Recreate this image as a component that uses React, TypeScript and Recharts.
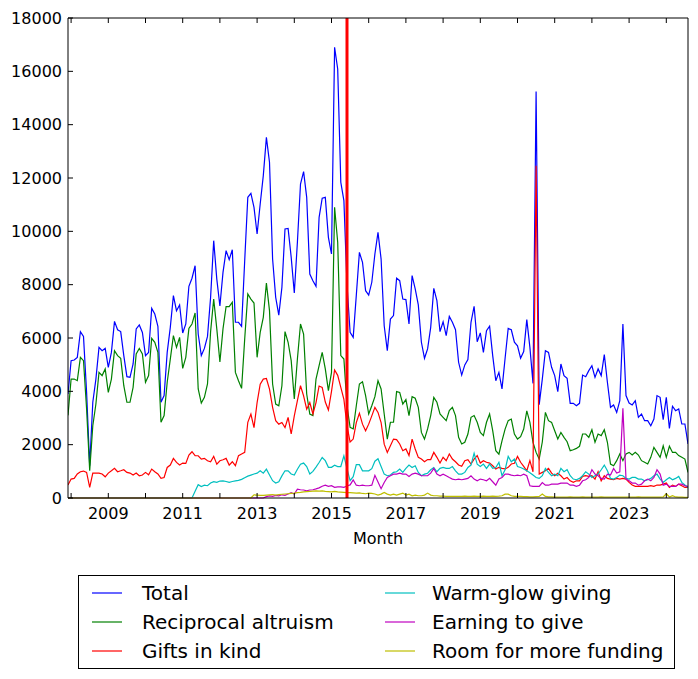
import React from 'react';
import { LineChart, Line, XAxis, YAxis, ReferenceLine } from 'recharts';

// monthly series, Dec 2007 .. Aug 2024 (201 months)
const firstMonth = 2007 + 11 / 12;

const total = [
  3900, 5150, 5175, 5275, 6240, 6060, 3960, 1210, 3590, 4460,
  5650, 5525, 5610, 4900, 5460, 6625, 6310, 6240, 5340, 4550,
  4525, 5025, 6340, 6490, 6210, 5340, 5460, 7110, 6900, 6440,
  3590, 3840, 5460, 6400, 7590, 7025, 7240, 6190, 6525, 7940,
  8240, 8710, 6150, 5340, 5610, 6060, 7525, 9650, 8210, 7200,
  8460, 9275, 8940, 9310, 6590, 6590, 6440, 8900, 11275, 11425,
  10900, 9900, 11025, 12090, 13525, 12590, 8960, 7525, 6860, 7900,
  10090, 10110, 9025, 7690, 9590, 11775, 12240, 11275, 8400, 8150,
  7940, 10525, 11240, 11275, 9775, 9150, 16900, 16090, 11840, 11150,
  8000, 6210, 6025, 7600, 9210, 8840, 7775, 7610, 8090, 9150,
  9960, 8960, 6460, 5525, 6710, 6840, 8240, 8150, 7460, 7440,
  6525, 8340, 7840, 7240, 5840, 5240, 5590, 6400, 7860, 7400,
  6240, 6610, 6090, 6810, 6590, 6310, 5090, 4610, 4990, 5190,
  6590, 7190, 5860, 6190, 5460, 6275, 6440, 5340, 4400, 4710,
  4090, 5240, 6360, 6310, 5840, 5710, 5240, 5490, 6690, 5650,
  4300, 15240, 3500, 4460, 5525, 5460, 4900, 4590, 3990, 5025,
  4590, 4490, 3550, 3550, 3460, 3550, 4610, 4550, 4775, 4960,
  4525, 4840, 4590, 5375, 4340, 3400, 3490, 3210, 3650, 6525,
  3840, 3560, 3490, 3650, 3025, 3150, 2900, 2900, 2710, 2960,
  3840, 3775, 2940, 3775, 2610, 3440, 3275, 3340, 2775, 2775,
  2025,
];

const reciprocal = [
  3100, 4460, 4460, 4400, 5275, 5150, 3340, 1025, 2710, 3525,
  4710, 4590, 4840, 3960, 4460, 5525, 5340, 5240, 4210, 3590,
  3590, 4150, 5400, 5610, 5400, 4340, 4590, 5990, 5840, 5460,
  2840, 3090, 4340, 5210, 6090, 5650, 6025, 4860, 5275, 6360,
  6525, 6940, 4090, 3560, 3775, 4275, 6240, 7460, 6340, 5100,
  6340, 7180, 7175, 7340, 4710, 4400, 4110, 5960, 7650, 7460,
  7310, 5275, 6210, 6775, 8060, 7025, 4275, 3525, 3460, 4210,
  6240, 5840, 5150, 3710, 5210, 6525, 6150, 3900, 3150, 3090,
  4460, 4960, 5460, 4840, 4025, 4710, 10900, 9590, 5340, 5210,
  3460, 2650, 2590, 3460, 4275, 4360, 3840, 3150, 3460, 3800,
  4400, 4090, 3150, 2210, 2840, 2840, 3990, 3960, 3525, 3690,
  3090, 3800, 3740, 3400, 2460, 2210, 2590, 3090, 3775, 3590,
  3150, 3025, 2900, 3275, 3400, 3090, 2275, 2025, 2090, 2400,
  3025, 3090, 2840, 2460, 2340, 2840, 3150, 2525, 1775, 1645,
  2145, 2585, 2900, 2960, 2400, 2210, 2300, 2585, 3270, 2835,
  2085, 1710, 1460, 2100, 3210, 2900, 2835, 2520, 2210, 2460,
  2275, 2110, 1775, 1810, 1860, 1940, 2400, 2400, 2275, 2560,
  2090, 2400, 2340, 2560, 2090, 1275, 1210, 1400, 1650, 1400,
  1650, 1710, 1610, 1710, 1610, 1400, 1340, 1275, 1525, 1900,
  1710, 1525, 1960, 1525, 1940, 1710, 1710, 1590, 1525, 1460,
  960,
];

const giftsInKind = [
  484, 710, 735, 900, 985, 1010, 960, 400, 935, 935,
  935, 900, 795, 935, 1020, 1110, 985, 1020, 1060, 960,
  935, 860, 935, 835, 860, 960, 870, 1085, 985, 900,
  735, 770, 1145, 1235, 1485, 1335, 1235, 1310, 1295, 1610,
  1735, 1585, 1585, 1460, 1485, 1395, 1360, 1560, 1270, 1395,
  1435, 1485, 1235, 1360, 1210, 1590, 1650, 1710, 2840, 3150,
  2640, 3580, 4270, 4460, 4480, 4080, 3400, 2900, 2770, 2830,
  2640, 3020, 2400, 3080, 3650, 4210, 3830, 3330, 3580, 3150,
  3580, 4200, 4150, 3600, 3300, 4000, 4800, 4600, 4150, 3700,
  2710, 2100, 2210, 2830, 3180, 2770, 2520, 2770, 3080, 3400,
  3210, 2830, 2020, 1710, 1960, 2210, 2190, 2025, 1775, 1840,
  1590, 2210, 1840, 1525, 1460, 1360, 1440, 1440, 1710, 1525,
  1310, 1525, 1400, 1650, 1460, 1360, 1240, 1190, 1400, 1440,
  1275, 1460, 1590, 1310, 1400, 1340, 1310, 1210, 1090, 1150,
  1110, 1090, 1150, 1275, 1300, 1560, 1340, 1185, 1020, 1400,
  980, 12460, 900, 960, 1020, 1110, 930, 835, 930, 835,
  710, 770, 645, 585, 645, 645, 810, 835, 810, 835,
  710, 985, 645, 835, 735, 710, 685, 735, 710, 735,
  710, 585, 485, 435, 435, 435, 435, 435, 460, 435,
  485, 485, 520, 560, 395, 485, 435, 520, 460, 395,
  395,
];

const warmGlow = [
  0, 0, 0, 0, 0, 0, 0, 0, 0, 0,
  0, 0, 0, 0, 0, 0, 0, 0, 0, 0,
  0, 0, 0, 0, 0, 0, 0, 0, 0, 0,
  0, 0, 0, 0, 0, 0, 0, 0, 0, 0,
  0, 250, 500, 430, 480, 460, 560, 610, 585, 635,
  645, 620, 585, 620, 645, 660, 700, 760, 820, 860,
  900, 930, 1020, 930, 1080, 860, 650, 560, 610, 830,
  1020, 1020, 900, 860, 1080, 1270, 1310, 1180, 900, 1000,
  1160, 1330, 1520, 1400, 1150, 1150, 1230, 1180, 1180, 1580,
  1100, 650, 800, 1250, 1250, 1020, 1020, 1020, 1100, 1380,
  1470, 1180, 895, 835, 860, 960, 985, 1085, 960, 1110,
  1235, 1145, 1210, 960, 835, 895, 930, 1060, 1145, 985,
  1110, 1145, 1110, 1110, 1180, 1020, 895, 895, 960, 1145,
  1235, 1680, 1270, 1180, 1270, 1110, 1270, 1110, 1145, 1335,
  835, 1060, 1560, 1360, 1460, 1180, 1145, 1085, 1020, 950,
  860, 770, 735, 835, 1110, 960, 835, 895, 835, 1110,
  985, 1060, 835, 710, 685, 735, 835, 985, 895, 770,
  835, 895, 1060, 1235, 1020, 735, 710, 770, 860, 835,
  735, 710, 770, 770, 710, 710, 645, 685, 735, 835,
  895, 710, 585, 685, 770, 685, 735, 810, 585, 485,
  395,
];

const earningToGive = [
  0, 0, 0, 0, 0, 0, 0, 0, 0, 0,
  0, 0, 0, 0, 0, 0, 0, 0, 0, 0,
  0, 0, 0, 0, 0, 0, 0, 0, 0, 0,
  0, 0, 0, 0, 0, 0, 0, 0, 0, 0,
  0, 0, 0, 0, 0, 0, 0, 0, 0, 0,
  0, 0, 0, 0, 0, 0, 0, 0, 0, 0,
  0, 0, 0, 0, 50, 80, 60, 100, 80, 120,
  100, 150, 200, 150, 330, 310, 300, 270, 300, 310,
  340, 380, 440, 480, 440, 460, 400, 420, 420, 400,
  450, 490, 680, 480, 460, 480, 460, 460, 480, 850,
  600, 350, 580, 770, 835, 895, 895, 930, 895, 895,
  810, 895, 930, 895, 835, 835, 835, 930, 1110, 895,
  835, 895, 835, 770, 710, 685, 710, 685, 710, 735,
  835, 710, 645, 710, 685, 645, 735, 610, 480, 710,
  770, 895, 895, 860, 835, 860, 835, 895, 835, 460,
  435, 435, 435, 580, 480, 480, 520, 520, 520, 560,
  560, 560, 480, 480, 435, 480, 645, 685, 770, 1060,
  895, 835, 735, 710, 895, 860, 1110, 935, 985, 3360,
  710, 645, 560, 560, 480, 520, 645, 710, 645, 770,
  1060, 895, 480, 520, 435, 435, 435, 520, 520, 460,
  435,
];

const roomForFunding = [
  0, 0, 0, 0, 0, 0, 0, 0, 0, 0,
  0, 0, 0, 0, 0, 0, 0, 0, 0, 0,
  0, 0, 0, 0, 0, 0, 0, 0, 0, 0,
  0, 0, 0, 0, 0, 0, 0, 0, 0, 0,
  0, 0, 0, 0, 0, 0, 0, 0, 0, 0,
  0, 0, 0, 0, 0, 0, 0, 0, 0, 0,
  120, 110, 100, 100, 110, 120, 130, 110, 130, 140,
  150, 160, 170, 180, 200, 210, 230, 240, 250, 260,
  270, 260, 270, 250, 240, 230, 250, 230, 220, 210,
  200, 200, 190, 180, 190, 170, 160, 180, 170, 150,
  110, 146, 210, 146, 110, 146, 110, 146, 184, 110,
  146, 84, 110, 84, 84, 110, 184, 110, 84, 84,
  70, 70, 60, 60, 60, 60, 60, 60, 70, 60,
  60, 70, 60, 60, 70, 60, 60, 70, 60, 70,
  84, 146, 146, 84, 60, 60, 60, 50, 50, 40,
  40, 50, 60, 146, 60, 40, 40, 30, 30, 30,
  30, 30, 40, 30, 30, 30, 40, 30, 30, 30,
  30, 30, 40, 30, 30, 30, 30, 30, 30, 30,
  30, 30, 30, 30, 40, 30, 30, 30, 30, 30,
  30, 30, 40, 160, 40, 90, 40, 30, 30, 20,
  20,
];

const months = total.map((_, i) => firstMonth + i / 12);
const xTicks = [2008, 2009, 2010, 2011, 2012, 2013, 2014, 2015, 2016, 2017, 2018, 2019, 2020, 2021, 2022, 2023, 2024];
const yTicks = [0, 2000, 4000, 6000, 8000, 10000, 12000, 14000, 16000, 18000];
const markerMonth = 2015 + 5 / 12;

const series = [
  { key: 'total', name: 'Total', color: '#0000ff', values: total },
  { key: 'reciprocal', name: 'Reciprocal altruism', color: '#008000', values: reciprocal },
  { key: 'gifts', name: 'Gifts in kind', color: '#ff0000', values: giftsInKind },
  { key: 'warm', name: 'Warm-glow giving', color: '#00bfbf', values: warmGlow },
  { key: 'earning', name: 'Earning to give', color: '#bf00bf', values: earningToGive },
  { key: 'room', name: 'Room for more funding', color: '#bfbf00', values: roomForFunding },
];

const data = months.map((m, i) => {
  const row: Record<string, number> = { month: m };
  series.forEach((s) => {
    row[s.key] = s.values[i];
  });
  return row;
});

const font = 'DejaVu Sans, sans-serif';
const tickStyle = { fill: '#000', fontSize: 16, fontFamily: font };
const xDomain = [months[0], months[months.length - 1]];

// matplotlib-style boxed legend, two columns
const LegendBox = () => (
  <div
    style={{
      position: 'absolute',
      left: 78,
      top: 575,
      width: 597,
      height: 94,
      border: '1px solid #000',
      boxSizing: 'border-box',
      background: '#fff',
      fontFamily: font,
      fontSize: 20,
    }}
  >
    {series.map((s, i) => {
      const col = Math.floor(i / 3);
      const row = i % 3;
      const cy = 17 + row * 29;
      return (
        <React.Fragment key={s.key}>
          <svg style={{ position: 'absolute', left: col ? 306 : 13, top: cy - 2 }} width={30} height={4}>
            <line x1={0} x2={30} y1={2} y2={2} stroke={s.color} strokeWidth={1.2} />
          </svg>
          <div
            style={{
              position: 'absolute',
              left: col ? 353 : 63,
              top: cy - 12,
              lineHeight: '24px',
              whiteSpace: 'nowrap',
              color: '#000',
            }}
          >
            {s.name}
          </div>
        </React.Fragment>
      );
    })}
  </div>
);

export default function App() {
  return (
    <div style={{ position: 'absolute', left: 0, top: 0, width: 698, height: 679, background: '#fff', fontFamily: font }}>
      <LineChart width={698} height={679} data={data} margin={{ top: 17, right: 9, bottom: 121, left: 0 }}>
        <XAxis
          dataKey="month"
          type="number"
          domain={xDomain}
          allowDataOverflow
          ticks={xTicks}
          interval={0}
          tickFormatter={(v: number) => (v % 2 === 1 ? String(v) : '')}
          tickSize={-5}
          tickMargin={15}
          height={60}
          stroke="#000"
          tick={tickStyle}
          label={{ value: 'Month', position: 'insideBottom', offset: 14, fill: '#000', fontSize: 16, fontFamily: font }}
        />
        <XAxis
          xAxisId="top"
          orientation="top"
          dataKey="month"
          type="number"
          domain={xDomain}
          allowDataOverflow
          ticks={xTicks}
          interval={0}
          tickFormatter={() => ''}
          tickSize={-5}
          height={1}
          stroke="#000"
        />
        <YAxis
          domain={[0, 18000]}
          ticks={yTicks}
          interval={0}
          width={68}
          tickSize={-5}
          tickMargin={11}
          stroke="#000"
          tick={tickStyle}
        />
        <YAxis
          yAxisId="right"
          orientation="right"
          domain={[0, 18000]}
          ticks={yTicks}
          interval={0}
          width={1}
          tickSize={-5}
          tickFormatter={() => ''}
          stroke="#000"
        />
        {series.map((s) => (
          <Line
            key={s.key}
            dataKey={s.key}
            name={s.name}
            type="linear"
            stroke={s.color}
            strokeWidth={1.2}
            dot={false}
            activeDot={false}
            isAnimationActive={false}
          />
        ))}
        <ReferenceLine x={markerMonth} stroke="#ff0000" strokeWidth={3} />
      </LineChart>
      <LegendBox />
    </div>
  );
}
